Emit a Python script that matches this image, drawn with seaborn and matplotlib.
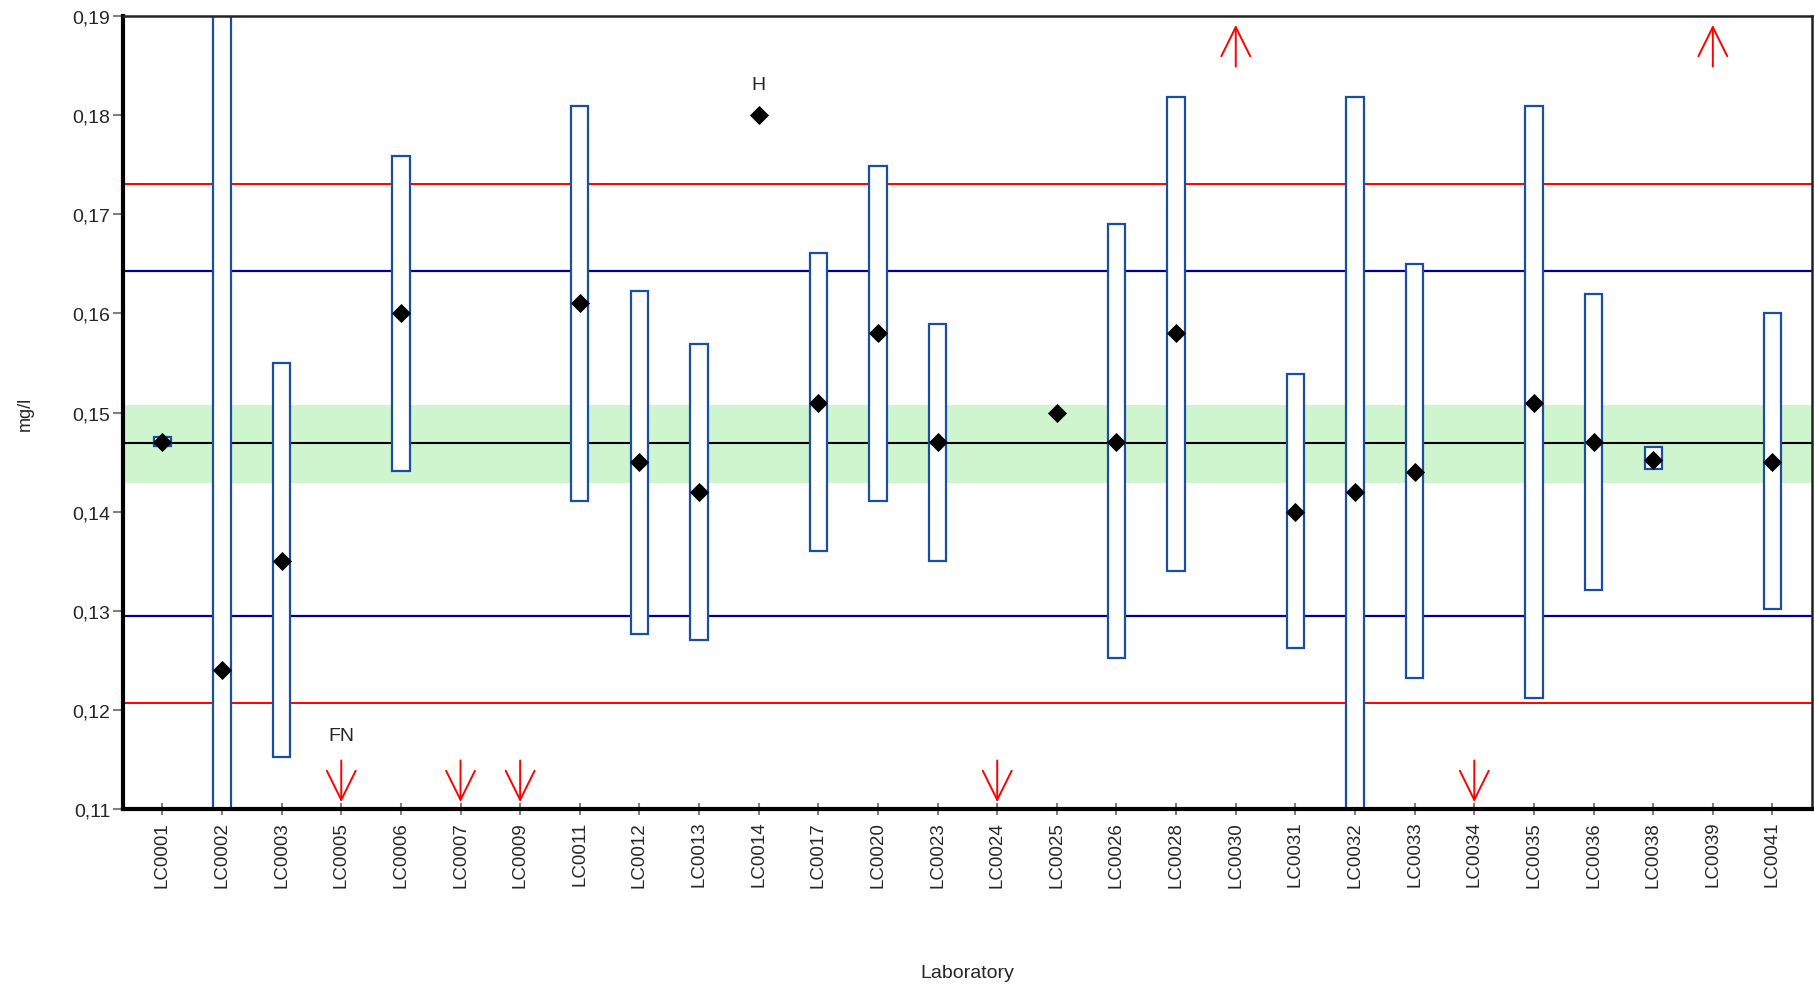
import numpy as np
import pandas as pd
import matplotlib
matplotlib.use("Agg")
import matplotlib.pyplot as plt
import seaborn as sns
from matplotlib.ticker import FuncFormatter

nan = np.nan

labs = ["LC0001", "LC0002", "LC0003", "LC0005", "LC0006", "LC0007", "LC0009",
        "LC0011", "LC0012", "LC0013", "LC0014", "LC0017", "LC0020", "LC0023",
        "LC0024", "LC0025", "LC0026", "LC0028", "LC0030", "LC0031", "LC0032",
        "LC0033", "LC0034", "LC0035", "LC0036", "LC0038", "LC0039", "LC0041"]

result = [0.147, 0.124, 0.135, nan, 0.160, nan, nan,
          0.161, 0.145, 0.142, 0.180, 0.151, 0.158, 0.147,
          nan, 0.150, 0.147, 0.158, nan, 0.140, 0.142,
          0.144, nan, 0.151, 0.147, 0.1452, nan, 0.145]

unc_low = [0.1466, 0.100, 0.1152, nan, 0.1441, nan, nan,
           0.1411, 0.1277, 0.1271, nan, 0.1360, 0.1411, 0.1350,
           nan, nan, 0.1252, 0.1340, nan, 0.1262, 0.100,
           0.1232, nan, 0.1212, 0.1321, 0.1443, nan, 0.1302]

unc_high = [0.1475, 0.200, 0.1550, nan, 0.1759, nan, nan,
            0.1809, 0.1623, 0.1569, nan, 0.1661, 0.1749, 0.1589,
            nan, nan, 0.1690, 0.1818, nan, 0.1539, 0.1818,
            0.1650, nan, 0.1809, 0.1620, 0.1465, nan, 0.1600]

below_range = ["LC0005", "LC0007", "LC0009", "LC0024", "LC0034"]
above_range = ["LC0030", "LC0039"]
flag_labs = ["LC0005", "LC0014"]
flag_text = ["FN", "H"]
flag_y = [0.1174, 0.1831]

assigned = 0.1469
green_band = [0.1429, 0.1508]
blue_limits = [0.1295, 0.1643]
red_limits = [0.1207, 0.1731]

df = pd.DataFrame({"lab": labs, "result": result, "lo": unc_low, "hi": unc_high})
df["pos"] = np.arange(len(df))

sns.set_style("white")
plt.rcParams["font.family"] = ["Liberation Sans", "DejaVu Sans"]

fig = plt.figure(figsize=(18.14, 9.87), dpi=100)
ax = fig.add_axes([0.0678, 0.1793, 0.931, 0.8035])

ymin, ymax = 0.11, 0.19
ax.set_ylim(ymin, ymax)
ax.set_xlim(-0.66, len(labs) - 1 + 0.66)

ax.axhspan(green_band[0], green_band[1], color="#cff5cf", lw=0, zorder=0)
ax.axhline(assigned, color="black", lw=1.5, zorder=1)
for v in blue_limits:
    ax.axhline(v, color="#000099", lw=1.6, zorder=1)
for v in red_limits:
    ax.axhline(v, color="#ff0000", lw=1.4, zorder=1)

# uncertainty boxes
boxes = df.dropna(subset=["lo", "hi"])
ax.bar(boxes["pos"], boxes["hi"] - boxes["lo"], bottom=boxes["lo"], width=0.29,
       color="white", edgecolor="#1a4ea0", linewidth=1.6, zorder=2)

sns.scatterplot(data=df.dropna(subset=["result"]), x="pos", y="result", marker="D",
                s=95, color="black", edgecolor="black", linewidth=0, zorder=4, ax=ax)

# out-of-range arrows
arrow_style = "->,head_length=1.05,head_width=0.52"
for lab in below_range:
    x = labs.index(lab)
    ax.annotate("", xy=(x, ymin + 0.0007), xytext=(x, ymin + 0.0049),
                arrowprops=dict(arrowstyle=arrow_style, color="red", lw=1.4,
                                shrinkA=0, shrinkB=0, mutation_scale=20), zorder=5)
for lab in above_range:
    x = labs.index(lab)
    ax.annotate("", xy=(x, ymax - 0.0009), xytext=(x, ymax - 0.0051),
                arrowprops=dict(arrowstyle=arrow_style, color="red", lw=1.4,
                                shrinkA=0, shrinkB=0, mutation_scale=20), zorder=5)

for lab, txt, y in zip(flag_labs, flag_text, flag_y):
    ax.text(labs.index(lab), y, txt, ha="center", va="center", fontsize=14, zorder=5)

ax.set_xticks(df["pos"], labs, rotation=90)
ax.set_yticks(np.arange(0.11, 0.1901, 0.01))
ax.yaxis.set_major_formatter(FuncFormatter(lambda v, p: f"{v:.2f}".replace(".", ",")))
ax.tick_params(axis="y", direction="out", length=7, width=1.5, color="#808080",
               labelsize=14, pad=2, left=True)
ax.tick_params(axis="x", direction="inout", length=9, width=1.5, color="#808080",
               labelsize=13.5, pad=4, bottom=True)

ax.set_xlabel("Laboratory", fontsize=14, labelpad=56)
ax.set_ylabel("mg/l", fontsize=13, labelpad=28)

for side in ["left", "bottom"]:
    ax.spines[side].set_linewidth(3)
    ax.spines[side].set_color("black")
for side in ["top", "right"]:
    ax.spines[side].set_linewidth(1.8)
    ax.spines[side].set_color("#222222")
    ax.spines[side].set_visible(True)

fig.savefig("out.png", dpi=100)
